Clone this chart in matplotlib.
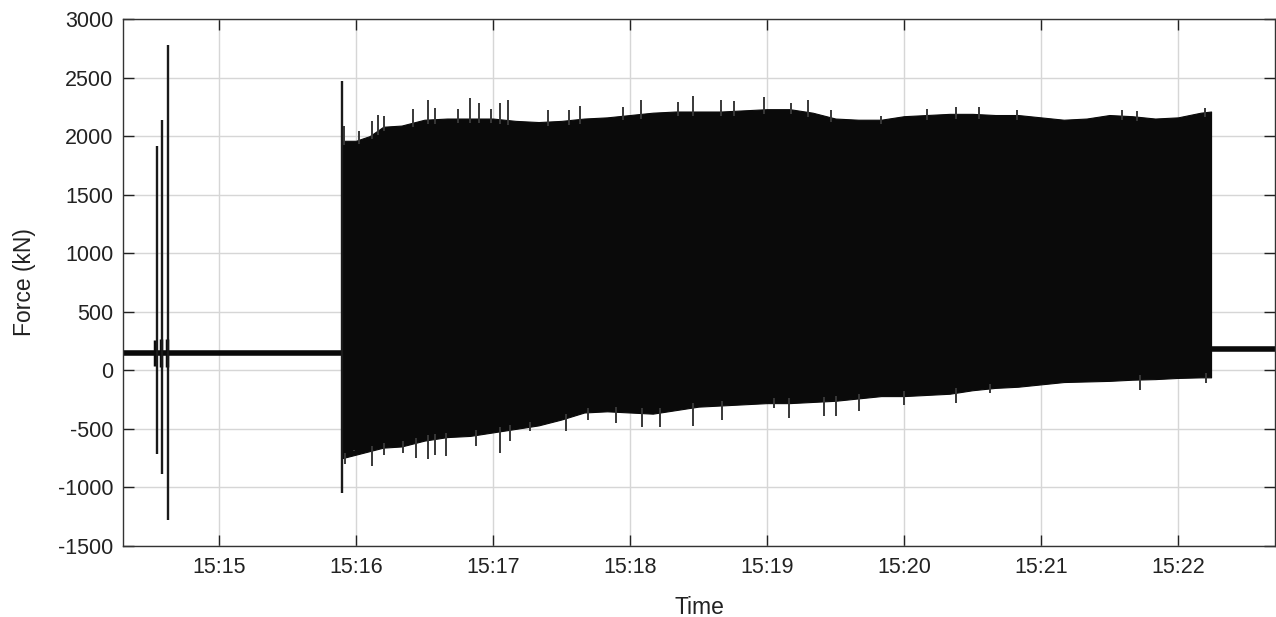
import numpy as np
import pandas as pd
import matplotlib
matplotlib.use("Agg")
import matplotlib.pyplot as plt

plt.rcParams['font.family'] = ['Liberation Sans', 'DejaVu Sans']

BASE = pd.Timestamp("2020-01-01 15:15:00")

# x range (seconds relative to 15:15:00)
x_limits_s = [-42, 462.5]

# quiet baseline levels
pre_baseline_t = [-42, 53.7]
pre_baseline_v = [150, 150]
post_baseline_t = [434.5, 462.5]
post_baseline_v = [179, 179]

# isolated impulses (time s, max kN, min kN)
spike_t = [-27.3, -24.8, -22.2, 53.7]
spike_max = [1914, 2136, 2775, 2471]
spike_min = [-716, -887, -1276, -1048]

# small bursts on the baseline around the impulses
burst_t = [-27.8, -25.3, -22.7]
burst_max = [260, 270, 270]
burst_min = [40, 30, 30]

# dense oscillation envelope (bulk of the black band)
env_t = [54, 60, 66, 72, 80, 90, 100, 110, 120, 130, 140, 150, 160, 170, 180,
         190, 200, 210, 220, 230, 240, 250, 260, 270, 280, 290, 300, 310, 320,
         330, 340, 350, 360, 370, 380, 390, 400, 410, 420, 430, 434.5]
env_upper = [1960, 1960, 2000, 2080, 2090, 2140, 2150, 2150, 2150, 2130, 2120,
             2130, 2150, 2160, 2180, 2200, 2210, 2210, 2210, 2220, 2230, 2230,
             2200, 2150, 2140, 2140, 2170, 2180, 2190, 2190, 2180, 2180, 2160,
             2140, 2150, 2180, 2170, 2150, 2160, 2200, 2210]
env_lower = [-750, -720, -690, -660, -650, -600, -570, -560, -530, -500, -470,
             -420, -360, -350, -360, -370, -340, -310, -300, -290, -280, -280,
             -270, -260, -240, -220, -220, -210, -200, -170, -150, -140, -120,
             -100, -95, -90, -80, -75, -65, -60, -60]

# individual peaks poking out of the band
up_peak_t = [54.9, 61.5, 67, 69.5, 72.4, 84.9, 91.5, 94.8, 104.6, 109.8, 114.1,
             119.3, 122.9, 126.6, 144.1, 153.2, 158, 177, 185, 201, 207.8, 220,
             225.4, 238.5, 250.5, 257.8, 268, 289.8, 310.2, 322.6, 332.8, 349.5,
             395.4, 401.9, 431.8]
up_peak_v = [2085, 2043, 2128, 2176, 2170, 2233, 2312, 2241, 2233, 2327, 2284,
             2233, 2284, 2307, 2222, 2227, 2261, 2250, 2307, 2290, 2341, 2307,
             2298, 2335, 2284, 2312, 2222, 2170, 2233, 2250, 2250, 2227, 2222,
             2213, 2241]
lo_peak_t = [54.1, 55.3, 59.3, 67, 72.4, 80.5, 86.3, 91.5, 94.8, 99.5, 112.7,
             122.9, 127.3, 136.1, 151.9, 161.7, 174.1, 185.1, 193.1, 207.8,
             220.2, 242.9, 249.8, 265, 270.2, 280.3, 300, 322.6, 337.9, 403.4,
             432.5]
lo_peak_v = [-875, -804, -690, -818, -719, -704, -747, -756, -719, -733, -648,
             -704, -605, -520, -520, -420, -449, -483, -483, -472, -420, -321,
             -406, -386, -392, -349, -293, -278, -193, -170, -108]

y_ticks = [-1500, -1000, -500, 0, 500, 1000, 1500, 2000, 2500, 3000]
x_tick_minutes = ["15:15", "15:16", "15:17", "15:18", "15:19", "15:20", "15:21", "15:22"]


def to_time(sec):
    return BASE + pd.to_timedelta(np.asarray(sec, dtype=float), unit="s")


fig = plt.figure(figsize=(12.76, 6.17), dpi=100)
ax = fig.add_axes([123 / 1276, 1 - 546 / 617, (1275 - 123) / 1276, (546 - 19) / 617])

ink = "#0a0a0a"
ax.plot(to_time(pre_baseline_t), pre_baseline_v, color=ink, lw=4.0, solid_capstyle="butt")
ax.plot(to_time(post_baseline_t), post_baseline_v, color=ink, lw=4.0, solid_capstyle="butt")
ax.vlines(to_time(burst_t), burst_min, burst_max, color=ink, lw=2.5)
ax.fill_between(to_time(env_t), env_lower, env_upper, color=ink, lw=0.8, edgecolor=ink)

ax.vlines(to_time(up_peak_t), np.interp(up_peak_t, env_t, env_upper) - 40, up_peak_v,
          color="#383838", lw=1.4)
ax.vlines(to_time(lo_peak_t), lo_peak_v, np.interp(lo_peak_t, env_t, env_lower) + 40,
          color="#383838", lw=1.4)
ax.vlines(to_time(spike_t), spike_min, spike_max, color="#1a1a1a", lw=1.7)

ax.set_xlim(to_time(x_limits_s[0]), to_time(x_limits_s[1]))
ax.set_ylim(-1500, 3000)
ax.set_yticks(y_ticks)
ax.set_yticklabels([str(v) for v in y_ticks])
ax.set_xticks([pd.Timestamp("2020-01-01 " + m) for m in x_tick_minutes])
ax.set_xticklabels(x_tick_minutes)

ax.grid(True, color="#d6d6d6", lw=1.0)
ax.set_axisbelow(True)
ax.tick_params(direction="in", length=8, width=1.0, top=True, right=True,
               labelsize=15.5, colors="#222222")
ax.tick_params(axis="y", pad=7)
ax.tick_params(axis="x", pad=8)
for s in ax.spines.values():
    s.set_color("#333333")
    s.set_linewidth(1.0)

ax.set_xlabel("Time", fontsize=16.5, color="#222222", labelpad=13)
ax.set_ylabel("Force (kN)", fontsize=16.5, color="#222222", labelpad=16)

fig.savefig("out.png", dpi=100)
